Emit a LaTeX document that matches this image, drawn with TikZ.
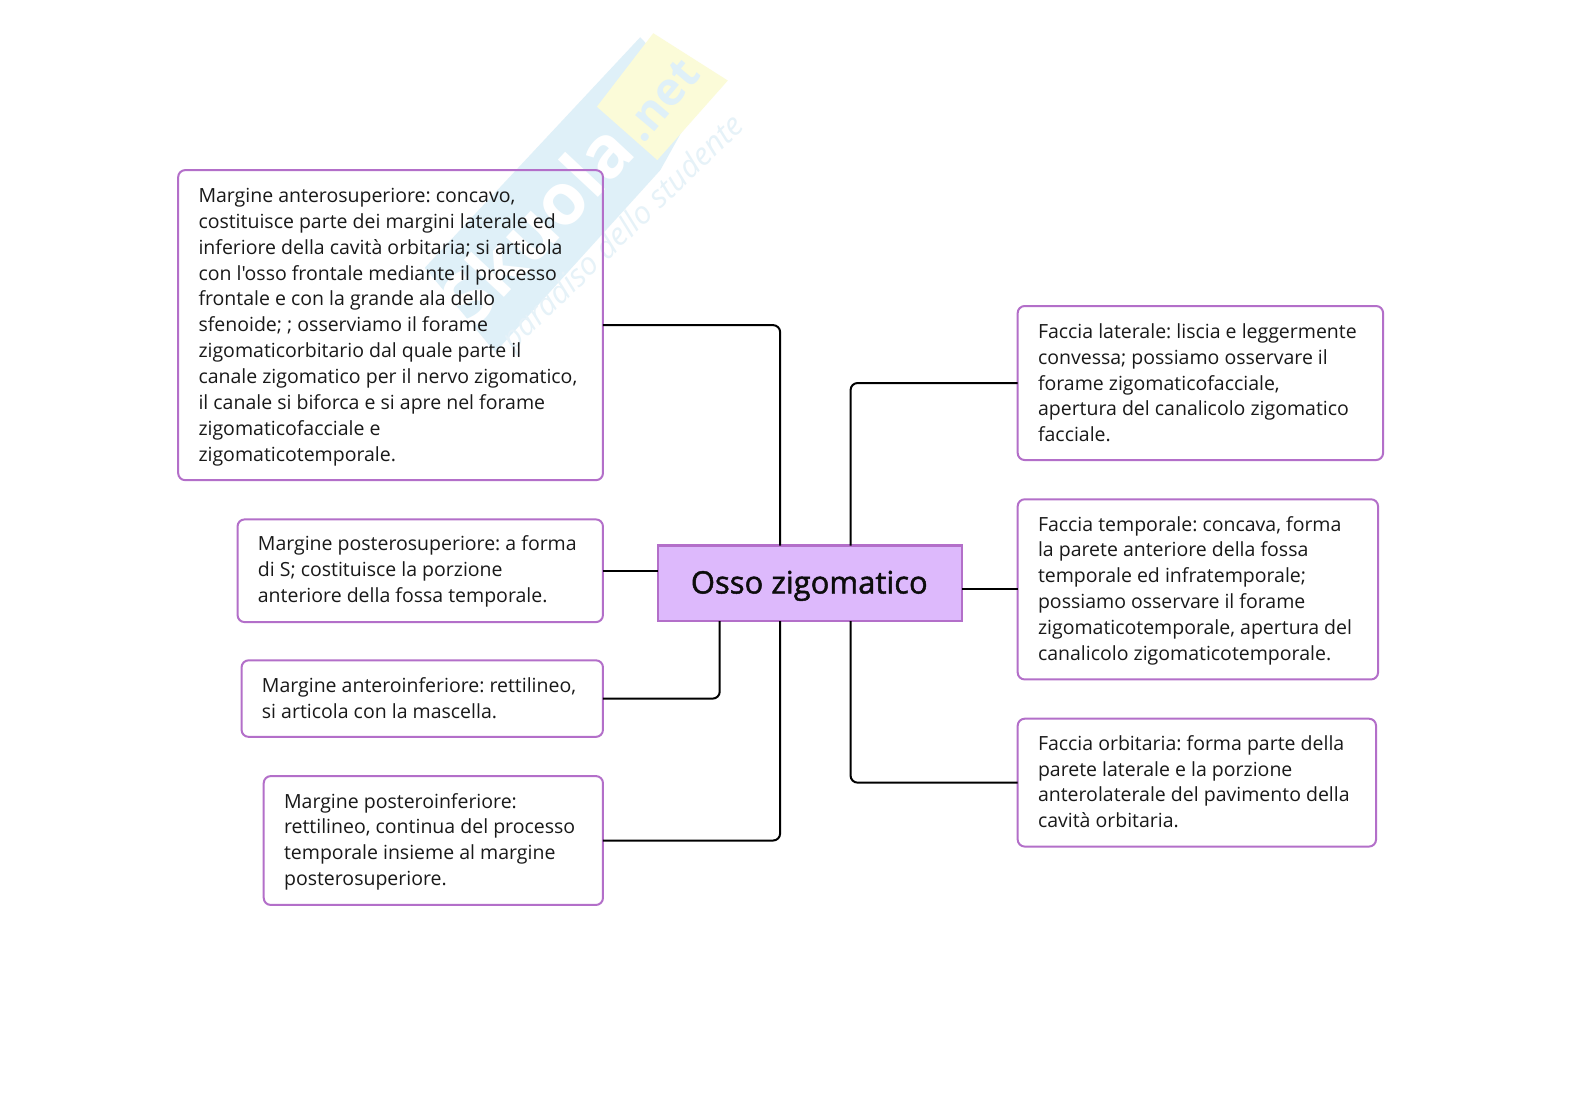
\documentclass[tikz,border=0pt]{standalone}
\usepackage{fontspec}
\setmainfont{Open Sans}[Ligatures=TeXOff]
\newfontfamily\titolo{Open Sans}[FakeBold=1.5]
\usetikzlibrary{fit}
\definecolor{bordo}{HTML}{B36FC9}
\definecolor{fondo}{HTML}{DDB9FC}
\definecolor{wmblue}{HTML}{DFF0F8}
\definecolor{wmyellow}{HTML}{FBFBD8}
\definecolor{wmtext}{HTML}{E6F2F8}
\tikzset{
 x=1.0066pt,y=-1.0066pt,
 foglia/.style={draw=bordo,line width=2pt,rounded corners=7pt,fill=none,inner sep=0pt,outer sep=0pt},
 testo/.style={anchor=north west,inner sep=0pt,align=left,font=\fontsize{19.5}{25.87}\selectfont\frenchspacing,text=black!90},
 ramo/.style={draw=black,line width=2pt,rounded corners=7pt},
 centro/.style={draw=bordo,line width=2.2pt,fill=fondo,inner sep=0pt,outer sep=0pt},
}
\begin{document}
\begin{tikzpicture}
\useasboundingbox (0,0) rectangle (1568.65,1108.68);
\fill[white] (0,0) rectangle (1568.65,1108.68);
% watermark
\fill[wmblue] (636,37) -- (422,266) -- (492,350) -- (656,169) -- (695,99) -- cycle;
\fill[wmyellow] (649,33) -- (723,80) -- (653,159) -- (593,106) -- cycle;
\node[rotate=47,font=\fontsize{72}{76}\selectfont\bfseries,text=white,inner sep=0pt] (wm1) at (533,222) {Skuola};
\node[rotate=50,font=\fontsize{46}{50}\selectfont\bfseries,text=wmblue,inner sep=0pt] (wm2) at (657,100) {.net};
\node[rotate=44,font=\itshape\fontsize{31}{34}\selectfont,text=wmtext,inner sep=0pt] (wm3) at (620,232) {paradiso dello studente};
% boxes
\node[foglia,fit={(177,169) (599,477)}] (a) {};
\node[testo] (at) at (197,186.7) {Margine anterosuperiore: concavo,\\costituisce parte dei margini laterale ed\\inferiore della cavità orbitaria; si articola\\con l'osso frontale mediante il processo\\frontale e con la grande ala dello\\sfenoide; ; osserviamo il forame\\zigomaticorbitario dal quale parte il\\canale zigomatico per il nervo zigomatico,\\il canale si biforca e si apre nel forame\\zigomaticofacciale e\\zigomaticotemporale.};
\node[foglia,fit={(236,516) (599,618)}] (b) {};
\node[testo] (bt) at (256,532.2) {Margine posterosuperiore: a forma\\di S; costituisce la porzione\\anteriore della fossa temporale.};
\node[foglia,fit={(240,656) (599,732)}] (c) {};
\node[testo] (ct) at (260,672.7) {Margine anteroinferiore: rettilineo,\\si articola con la mascella.};
\node[foglia,fit={(262,771) (599,899)}] (d) {};
\node[testo] (dt) at (282,787.7) {Margine posteroinferiore:\\rettilineo, continua del processo\\temporale insieme al margine\\posterosuperiore.};
\node[foglia,fit={(1011,304) (1374,457)}] (e) {};
\node[testo] (et) at (1031,321.2) {Faccia laterale: liscia e leggermente\\convessa; possiamo osservare il\\forame zigomaticofacciale,\\apertura del canalicolo zigomatico\\facciale.};
\node[foglia,fit={(1011,496) (1369,675)}] (f) {};
\node[testo] (ft) at (1031,512.5) {Faccia temporale: concava, forma\\la parete anteriore della fossa\\temporale ed infratemporale;\\possiamo osservare il forame\\zigomaticotemporale, apertura del\\canalicolo zigomaticotemporale.};
\node[foglia,fit={(1011,714) (1367,841)}] (g) {};
\node[testo] (gt) at (1031,730.2) {Faccia orbitaria: forma parte della\\parete laterale e la porzione\\anterolaterale del pavimento della\\cavità orbitaria.};
\node[centro,fit={(654,542) (956,617)}] (o) {};
\node[font=\titolo\fontsize{31}{36}\selectfont,inner sep=0pt,text=black!95] (ot) at (804,582) {Osso zigomatico};
% connector ends
\coordinate (n1) at (775,542);
\coordinate (n2) at (845,542);
\coordinate (s0) at (715,617);
\coordinate (s1) at (775,617);
\coordinate (s2) at (845,617);
% connectors
\draw[ramo] (a.east) -| (n1);
\draw[ramo] (b.east) -- (b.east -| o.west);
\draw[ramo] (c.east) -| (s0);
\draw[ramo] (d.east) -| (s1);
\draw[ramo] (e.west) -| (n2);
\draw[ramo] (f.west) -- (f.west -| o.east);
\draw[ramo] (g.west) -| (s2);
\end{tikzpicture}
\end{document}
